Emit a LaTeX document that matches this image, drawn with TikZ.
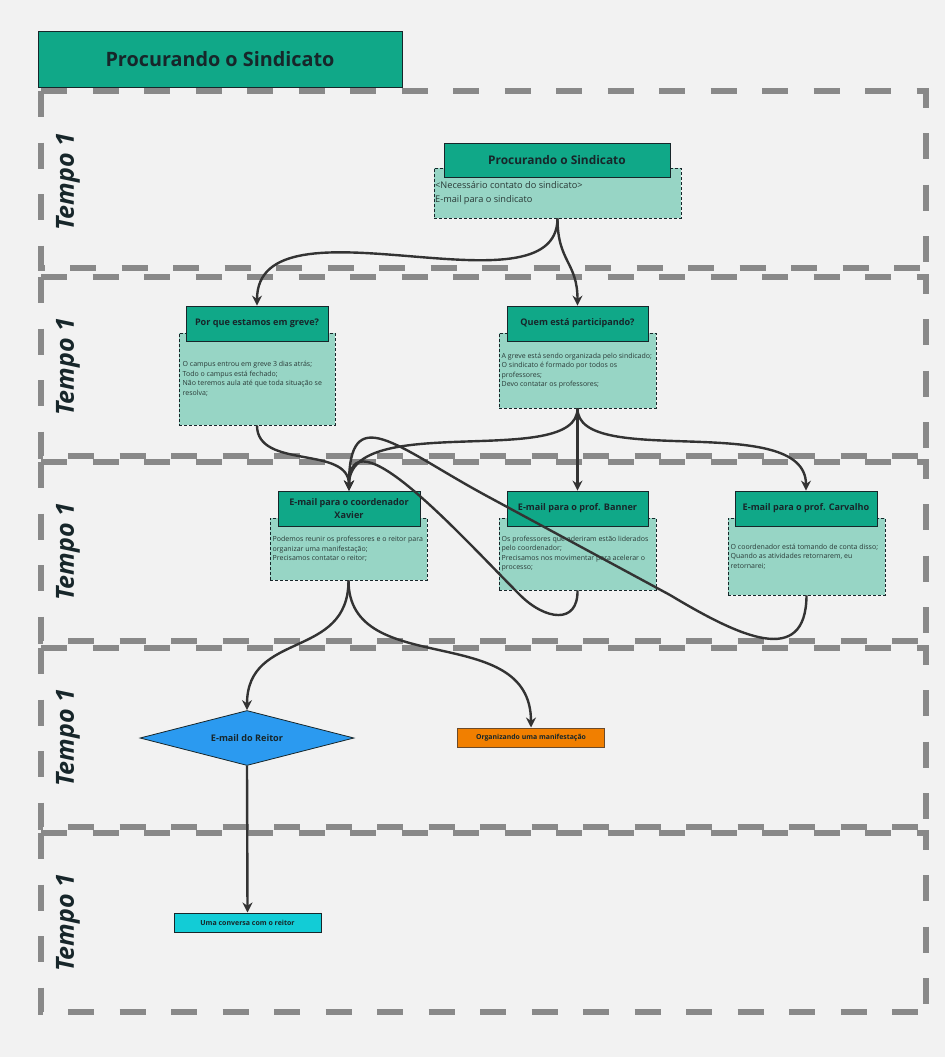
\documentclass[tikz,border=0pt]{standalone}
\usepackage{fontspec}
\setmainfont{Open Sans}
\usetikzlibrary{arrows.meta,shapes.geometric}
\definecolor{bg}{HTML}{F2F2F2}
\definecolor{hdrfill}{HTML}{10A888}
\definecolor{bodyfill}{HTML}{97D5C5}
\definecolor{lanegray}{HTML}{898989}
\definecolor{dark}{HTML}{333333}
\definecolor{ink}{HTML}{17262A}
\definecolor{bodyink}{HTML}{2A3A37}
\definecolor{blueone}{HTML}{2B9AF0}
\definecolor{orangeone}{HTML}{F17F00}
\definecolor{cyanone}{HTML}{12CCD6}
\definecolor{brownline}{HTML}{6B4A2A}
\begin{document}
\begin{tikzpicture}[x=1pt,y=-1pt,
  lane/.style={draw=lanegray, line width=6pt, dash pattern=on 26pt off 25.5pt},
  tempo/.style={rotate=90, inner sep=0pt, text=ink, font=\fontsize{25}{30}\selectfont\bfseries\itshape},
  cardhdr/.style={draw=ink, line width=0.8pt, fill=hdrfill, inner sep=0pt, text=ink, align=center,
     font=\fontsize{9.1}{13}\selectfont\bfseries},
  cardbody/.style={draw=ink, line width=0.8pt, dash pattern=on 3pt off 2pt, fill=bodyfill, inner sep=0pt},
  bodytxt/.style={anchor=west, inner sep=0pt, align=left, text=bodyink, font=\fontsize{7.0}{9.5}\selectfont},
  conn/.style={draw=dark, line width=2.4pt, -{Stealth[length=10pt,width=10pt]}},
]
\useasboundingbox[fill=bg] (0,0) rectangle (945,1057);

% swimlanes
\foreach \t/\b in {91/268, 277/456, 462/641, 648/827, 833/1012} {
  \draw[lane] (41,\t) -- (926,\t) -- (926,\b);
  \draw[lane] (41,\t) -- (41,\b) -- (926,\b);
}

% title
\node[draw=ink, line width=0.8pt, fill=hdrfill, minimum width=364pt, minimum height=56pt, inner sep=0pt,
  text=ink, font=\fontsize{19.8}{23}\selectfont\bfseries] (title) at (220,59) {Procurando o Sindicato};

% lane labels
\node[tempo] (t1) at (68,182) {Tempo 1};
\node[tempo] (t2) at (68,367) {Tempo 1};
\node[tempo] (t3) at (68,552) {Tempo 1};
\node[tempo] (t4) at (68,738) {Tempo 1};
\node[tempo] (t5) at (68,923) {Tempo 1};

% card 1
\node[cardbody, minimum width=247pt, minimum height=50pt] (c1b) at (557.5,193) {};
\node[cardhdr, minimum width=226pt, minimum height=34pt, font=\fontsize{11.9}{14}\selectfont\bfseries] (c1h) at (557,160) {Procurando o Sindicato};
\node[bodytxt, font=\fontsize{9.2}{13.5}\selectfont] (c1t) at (435,193) {<Necessário contato do sindicato>\\E-mail para o sindicato};

% card 2
\node[cardbody, minimum width=156pt, minimum height=92pt] (c2b) at (257,379) {};
\node[cardhdr, minimum width=142pt, minimum height=35pt] (c2h) at (257,323.5) {Por que estamos em greve?};
\node[bodytxt] (c2t) at (182.5,379) {O campus entrou em greve 3 dias atrás;\\Todo o campus está fechado;\\Não teremos aula até que toda situação se\\resolva;};

% card 3
\node[cardbody, minimum width=157pt, minimum height=75pt] (c3b) at (577.5,370.5) {};
\node[cardhdr, minimum width=141pt, minimum height=35pt] (c3h) at (577.5,323.5) {Quem está participando?};
\node[bodytxt] (c3t) at (501.5,370.5) {A greve está sendo organizada pelo sindicado;\\O sindicato é formado por todos os\\professores;\\Devo contatar os professores;};

% card 4
\node[cardbody, minimum width=157pt, minimum height=62pt] (c4b) at (348.5,549) {};
\node[cardhdr, minimum width=142pt, minimum height=35pt] (c4h) at (349,508.5) {E-mail para o coordenador\\Xavier};
\node[bodytxt] (c4t) at (272.5,549) {Podemos reunir os professores e o reitor para\\organizar uma manifestação;\\Precisamos contatar o reitor;};

% card 5
\node[cardbody, minimum width=157pt, minimum height=72pt] (c5b) at (577.5,554) {};
\node[cardhdr, minimum width=141pt, minimum height=35pt] (c5h) at (577.5,508.5) {E-mail para o prof. Banner};
\node[bodytxt] (c5t) at (501.5,553.5) {Os professores que aderiram estão liderados\\pelo coordenador;\\Precisamos nos movimentar para acelerar o\\processo;};

% card 6
\node[cardbody, minimum width=157pt, minimum height=77pt] (c6b) at (806.5,556.5) {};
\node[cardhdr, minimum width=142pt, minimum height=35pt] (c6h) at (806,508.5) {E-mail para o prof. Carvalho};
\node[bodytxt] (c6t) at (730.5,556.5) {O coordenador está tomando de conta disso;\\Quando as atividades retornarem, eu\\retornarei;};

% lower shapes
\node[diamond, aspect=4, draw=ink, line width=0.8pt, fill=blueone, minimum width=214pt, minimum height=55pt,
  inner sep=0pt, text=ink, font=\fontsize{9.1}{11}\selectfont\bfseries] (dia) at (247,738) {E-mail do Reitor};
\node[draw=brownline, line width=1pt, fill=orangeone, minimum width=147pt, minimum height=19pt, inner sep=0pt,
  text=ink, font=\fontsize{6.9}{8}\selectfont\bfseries] (org) at (531,737.5) {Organizando uma manifestação};
\node[draw=ink, line width=1pt, fill=cyanone, minimum width=147pt, minimum height=19pt, inner sep=0pt,
  text=ink, font=\fontsize{7}{8}\selectfont\bfseries] (cyn) at (247.5,922.5) {Uma conversa com o reitor};

% connectors
\draw[conn] (c1b.south) .. controls (557,320) and (257,190) .. (c2h.north);
\draw[conn] (c1b.south) .. controls (557.5,262) and (577.5,262) .. (c3h.north);
\draw[conn] (c2b.south) .. controls (257,470) and (349,445) .. (c4h.north);
\draw[conn] (c3b.south) .. controls (577.5,470) and (349,410) .. (c4h.north);
\draw[conn] (c3b.south) -- (c5h.north);
\draw[conn] (c3b.south) .. controls (577.5,470) and (806,410) .. (c6h.north);
\draw[conn] (c5b.south) .. controls (578,625) and (545,620) .. (520,595) .. controls (460,535) and (349,410) .. (c4h.north);
\draw[conn] (c6b.south) .. controls (806,668) and (740,637) .. (670,595) -- (485,495) .. controls (395,446) and (349,400) .. (c4h.north);
\draw[conn] (c4b.south) .. controls (348.5,660) and (247,630) .. (dia.north);
\draw[conn] (c4b.south) .. controls (348.5,680) and (531,620) .. (org.north);
\draw[conn] (dia.south) -- (cyn.north);
\end{tikzpicture}
\end{document}
